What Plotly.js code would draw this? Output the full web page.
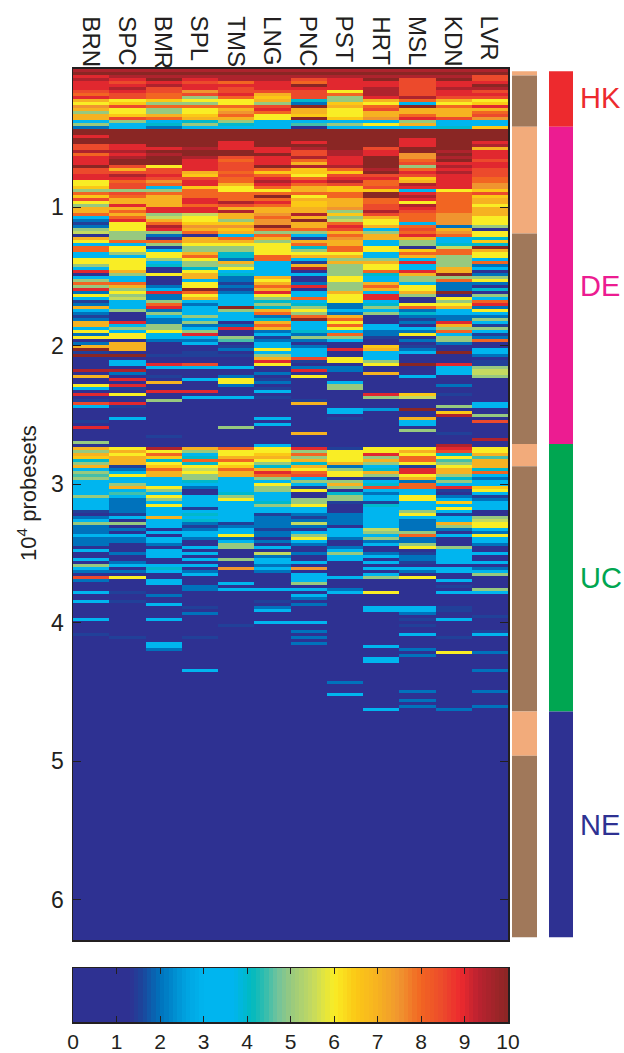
<!DOCTYPE html>
<html><head><meta charset="utf-8">
<script src="https://cdn.plot.ly/plotly-3.0.1.min.js"></script>
<style>html,body{margin:0;padding:0;background:#fff}</style></head>
<body><div id="chart" style="width:624px;height:1053px"></div>
<script>
const tissues = ["BRN","SPC","BMR","SPL","TMS","LNG","PNC","PST","HRT","MSL","KDN","LVR"];
const rowStep = 0.02165;
const rowsHK = [
[9.5,9.5,9.5,9.5,9.5,9.5,9.5,9.5,9.5,9.5,9.5,9.5],
[10,10,10,10,10,10,10,10,10,10,10,10],
[9,9.5,9.5,9.5,9.5,9.5,9.5,9.5,9.5,9.5,9.5,8.5],
[9.5,9,10,9,9.5,9.5,8.5,9,10,8.5,10,8.5],
[9,8.5,9,8.5,8,9,8,9,9,8.5,9,9],
[9,9,9.5,9,9,9,10,9,9,8.5,9,10],
[9,9.5,8.5,9,8.5,9,9,9,9.5,8.5,9.5,9.5],
[8.5,9,8.5,7.5,8.5,8.5,8.5,6,9.5,8.5,9,8.5],
[8,8.5,8,8.5,9,7,8.5,8,9.5,8.5,9,9],
[9,8.5,8,5,8,6.5,8.5,5,9,9.5,8.5,8.5],
[7,6,6.5,6,6,7,4,5,7,8,7,6],
[6,6.5,5,5,6,5,2,6.5,6,3,6,6.5],
[7.5,8.5,8,8,8,8.5,10,7,8,10,8,9],
[7,6,5,6,7,9,7,6,8.5,7,7,7],
[5,6,5,6,7.5,8,7,6,7,7,7,8],
[7,6.5,7,6.5,8,6,6.5,6,7,8,7,8.5],
[7,8.5,8,7,7,6,10,6.5,7.5,9,8.5,7.5],
[3,5,3,4,5,3,3,3.5,3,5,3,3],
[5,3,4,5,4,3,4.5,5,6,7,3,3],
[2,3,2,3,3,3,1,3,3,3,4,6.5]
];
const rowsDE = [
[10,10,10,10,10,10,10,10,10,10,10,10],
[10,10,10,10,10,10,10,10,10,10,10,10],
[9,10,10,10,10,10,10,10,10,10,10,10],
[10,10,10,10,10,10,10,10,10,9,10,10],
[10,10,10,10,9,10,9,10,10,9,10,9],
[8.5,9,10,10,9,10,10,10,10,9,10,9.5],
[8.5,9,9,9.5,9,9,9.5,10,8.5,10,10,7],
[9.5,9.5,10,10,10,9,8.5,9.5,9,10,9.5,9],
[8,9,9.5,10,10,10,8.5,9.5,9,7.5,10,9],
[9,9.5,10,9.5,8.5,9,9.5,9,10,7.5,9.5,9],
[9,10,10,9,8,9,8,9,10,8,10,8.5],
[9,10,10,9,8.5,9,7,9,10,8.5,9,9],
[10,8.5,6,9,8.5,10,9.5,9.5,10,5,9.5,9],
[8.5,7,8.5,9,8.5,8,6.5,8,9.5,8,9,8.5],
[8.5,8.5,8.5,7,8,6.5,6.5,6.5,10,9,9.5,8.5],
[9,9.5,9,6.5,8.5,8,6,8.5,8.5,8.5,9,8.5],
[9,9,8.5,8.5,8,9,8,9,9,6.5,9,8],
[6,8,7.5,9,8,9.5,9,9.5,8,7,9,8],
[6,8.5,8,9,7,9,8,8.5,8,9.5,9,7.5],
[6.5,8.5,3,6.5,6,8,7,6.5,8.5,9,9,7.5],
[5,5,5,8,6,6,7,6.5,6.5,3,6,6.5],
[8,8.5,8,8,8,8,8,8,10,9,8,8.5],
[6.5,8,7,8,8,10,6,8,10,9.5,8,6.5],
[8.5,7,7,9,8,8,7,7,8,9,8,7],
[6,7,7,9,9.5,9,6.5,7,8,6,8,7],
[5,9,7,8,8.5,8,6.5,7,8.5,9.5,8,6],
[7,7,9,9,7,7,7,7.5,8.5,9,8,7],
[7,8,9,9,9.5,7,7,5,9.5,8.5,8,7],
[8,7,5,5.5,7,7.5,9.5,6.5,8.5,8,7.5,7],
[3,8,5.5,6,7,8,7,5,7,8,7.5,6],
[2,9,7,6,5,7.5,10,5.5,6,8,7.5,6],
[1.5,6,8,6.5,6.5,7.5,7,8,6,3,7.5,6],
[2,6,9.5,7.5,7.5,10,7,9,7,8,2,5],
[5,6,9,7,6.5,8,8,8.5,3,8.5,7,1],
[5.5,5,5,8,7,5,5,7,5,8,7.5,6],
[1,5,2,1,3,8,3,8,7,9,8,6],
[7,5,1,7,8,7,1.5,7.5,7,7,3,4],
[6,8,8,7,7,5,7,7,3,5,3,6.5],
[3,3,5,6,6,6,8,7,3,5,4,4],
[8,6,1.5,5,5,6,4,8,6,1,5.5,10],
[8,6,3,5,5,6,5,8,6,6.5,8,7],
[3,5,6,7,4,6,6,6,3,8,8,6],
[3,3,6,8,4,8,7,7,3,7,5,6],
[6,6,5,6,2,8,3,5,5,3,5,3],
[6,6,3,5,7,3,1.5,7,7,9,5,8],
[5,6,4,5,5,3,7,5,6,3,5,2],
[3,6,1,4,6,3,9.5,5,6,3,7,3],
[9,7,1,6,3,3,1,5,8,9,7,1],
[1,5,6,7,4,3,3,5,4,7,10,2],
[3,3,1,7,2,7,1,6,3,5,5,5],
[5,3,1,3,2,6,1,6,3,5,8,6],
[8,8,1,6,1.5,7,2,5,7,3,2,2],
[5,7,2,6,2,8,9,5,8,6,2,1],
[9,5,3,10,1.5,7,1,5,7,6,2,4],
[2,6,9,8,2,9,3,7,3,7,10,1],
[6,5,2,6,3,6,3,6,9,5,1,5],
[3,5.5,2,7,3,5,8,6,9,1,6,3],
[1.5,3,5,3,3,4,3,6,3,1,5,8],
[2,3,8,2,3,5,4,2,4,6,6,9],
[7,3,9,3,10,4,5,2,5,8,7,2],
[3,5,2,3,5,7,6,3,3,2,3,6],
[2,1,5,3,3,8,5,2,5,4,3,3],
[1.5,1,3,5,3,2,8,7,1,2,2,2],
[2,1,2,3,3,4,10,8,1,1.5,2,5],
[7,9,2,5,1,7,3,6,1,2,9,3],
[7,3,5,2,2,8,3,8,3,1,7,1.5],
[3,5,5,3,9,7,3,6,3,3,5,5],
[6,3,6,5,1,2,4,3,2,2,8,3],
[2,6,3,9,1,3,2,8,2,6,3,1.5],
[6,6,3,3,5,1.5,5,5,1.5,1,5,2],
[1,1,2,2,4.5,2,2,3,1,2,5,8],
[2,7,1,3,1,3,1,1,1,1,2,1],
[7,7,1,1,1.5,3,2,1,6.5,1.5,1,1],
[10,7,1,1,2,6,3,9,7,2,1,3],
[1.5,1,1,1.5,1,3,3,1,3,3,10,3],
[10,10,1.5,1.5,1.5,5,3,1,3,1,1,2],
[1,1,1,1,1,7,8.5,6,3.5,1,1,1],
[1,3,1,1,1,9,1.5,6,5,1,1,1.5],
[1,3,9,8.5,1,6,1,1,6,10,9,1.5],
[1,1,3,3,3,1,2,2,1,1,3,5],
[9.5,9.5,1,1,1,1,9,2,1,1,3,5.5],
[1,2,1,1,1,2,1,1,7,1,3,5.5],
[7,1,1.5,1,2,1,6,1,1,3,1,5],
[1,9,1,3,6,1.5,1,1,1,1,1,1],
[1,1,7,1,6,2,1,3,1,1,1,1],
[6,9,1,1,2,1,1,5,1,1,2,1],
[3,1.5,1,1,1,1.5,1,5,1,1,1,1],
[1,1,9,9,1,3,1,1,1,1,1,1],
[9,6,1,1,1,1,1,1,9,6.5,1.5,1],
[1,1,1,3,3,1.5,1,1,5,5.5,1,1],
[1.5,1,5,1,1,1,1.5,1,1,1,1,1],
[8.5,9,1,1,1,1,7,1,1,1,1,3],
[3,1.5,1,1,1,1,1,1,1,1,5,3],
[1,1,1,1,1,1,1,3,2.5,10,1,1],
[1,1,1,1,1,1,1,3,1,1,6.5,1],
[1,1,1,1,1,1,1,1,1,1,9.5,5],
[1,3,1,1,1,3,1,1.5,1,7,1,1],
[1.5,1,1,1,1,1,1,1,1,3,1,8.5],
[1,1,1,1,1,3,1,1,1,3,1,1],
[9,1,1,1,5,1,1,1,1,1,1,1],
[1,1,1,1,1,1,1,1,1,5,1,1],
[1,1,1,1,1,1,7,1,1,1,1.5,1],
[1,1,1.5,1,1,1,1,1,1,1,1,1],
[1,1,1,1,1,1,1,1,1,1,1,9.5],
[5,1,1,1,1,1,1,1,1,1,1,1],
[1,1,1,1,1,3,1,1,1,1,9.5,1]
];
const rowsUC = [
[7,6,9.5,7,8,6,9,1.5,6,6,9,6],
[5,7,6,5,6,6,5,6,6,7,8.5,6],
[7,6,8,3,6,6.5,8,6,9,6,4,7],
[6.5,7,6.5,4,7,7,5,6,5,8,6,4.5],
[4,7,4,8,8,6,7,6,7,8,4.5,7],
[5,7,6,4,6,5,4,7,5,6,5,7],
[7,1.5,6.5,6,6.5,4,7,2,3.5,1.5,6,7],
[3,2,8,5.5,8,7,6,5,4,9,7,4],
[5,3,7,6,7,9,8,6,7,9,7,8],
[4.5,6,7,5,7,8,8.5,6,5,6,5,3],
[5,3,3,5,3,5,3,1,1.5,7,4,2],
[3,3,3,4,3,3,5,5,3,2,5,3],
[3,5,3,3,3,6,3,7,4,8,3,3],
[3,7,6,2,3,5,1.5,5,8.5,8,9,6.5],
[3,3,5,1,3,5,6,1,3,3,1.5,6],
[3,4.5,3,1,4,3,1,4,2,3,1,3],
[5,3,6,3,5,3,1,5,3,6,2,1.5],
[3,2,5,3,6,3,5,5,3,6,3,2],
[3,2,3,3,3,4,5,1.5,1.5,3,6.5,3],
[3,2,6,3,3,5,6,1,4,3,3,3],
[3,2,3,1.5,3,3,3,1,3,3,6,3],
[1.5,2,3,3,3,3,3,1,3,5,3,1],
[1,1.5,3,4,3,1.5,2,2,3,6,1.5,1],
[2,3,7,3.5,3,2,1.5,2,3,3,3,5],
[3,1,3,4,3,2,2,2,3,2,3,5.5],
[5,5,3,2,1.5,2,5.5,2,3,2,7,6],
[2,1,3,1.5,2,2,2,1,3,2,5,6],
[2,2,1,2,3,1.5,1,3,5.5,2,2,3],
[2,1,3,3,3,2,3,3,5,5,1,2],
[3,3,1,3,6,2,5,3,3,8,3,6],
[2,2,3,2,2,1,6,2,5,2,1,3],
[2,2,3,1,3,2,3,1,2,2,1,3],
[2,1,2,1,5,1,2,1,3,5,1,2],
[1,1,1,3,5,3,1,2,1,6,5,1],
[3,1,3,1,1,1,1,3,1,1,3,1],
[1,2,3,3,1,5.5,2,5,2,1.5,3,3],
[1,1,3,1,1,2,1,3,3,2,3,1],
[3,1,1,3,5,3,1,3,1,2,3,1],
[1,2,1,1,1,3,3,1,3,1.5,3,3],
[5,3,3,3,1,2,1,1,1,1,1,1],
[3,1,4,1,7.5,3,7.5,1,3,3,3,2],
[2,2,3,2,1,2,1,1,1,2,3,3],
[1,1,1,3,1,1,3,1,3,1,1,5],
[8.5,6,1,1,1,1,3,3,5,6,1,1],
[2,1,3,1,1,1,3,1,1,1,3,1],
[1,1,3,1,3,1,5,1,1,1,1,1],
[1,1,1,2,1,1,1,1,1,1,1.5,1],
[1,1,1,2,3,3,3,2,1,1,1,5],
[3,1.5,1,1,1,1,1,3,6,1,3,3],
[1,1,2,1,1,1,3,1,1,1,1,1],
[1,1,1,1,1,1,2,1,1,1,1,1],
[3,1.5,1,1,1,1.5,1,1,1,1,1,1],
[1,1,3,1,1,1,2,1,1,1,1,1],
[1,1,1,1.5,1,2,1,1,3,3,1.5,1],
[1,1,1,1,1,3,1,1,3,3,1.5,1],
[1,1,1,2,1,1,1,1,1,2,1,1],
[1,1,1,1,1,1,1,1,1,1,1,1.5],
[3,1,3,1,1,1,1,1,1,1.5,3,1],
[1,1,1,1,1,3,3,1,1,1,1,1],
[1,1,1,1,1.5,1,1,1,1,1.5,1,1],
[1,1,1,1,1,1,1,1,1,1,1,1],
[1,1,1,1,1,1,2,1,1,1,1,1.5],
[1.5,1,1,1,1,1,1,1,1,3,1,3],
[1,1.5,1,1.5,1,1,2,1,1,1,1.5,1],
[1,1,1,1,1,1,1,1,1,1,1,1],
[1,1,3,1,1,1,2,1,1,1,1,1],
[0,0,3,0,0,0,0,0,3,0,0,0],
[0,0,2,0,0,0,0,0,0,2,0,0],
[0,0,0,0,0,0,0,0,0,0,6,2],
[0,0,0,0,0,0,0,0,0,2,0,0],
[0,0,0,0,0,0,0,0,3,0,0,0],
[0,0,0,0,0,0,0,0,3,0,0,0],
[0,0,0,0,0,0,0,0,0,0,0,0],
[0,0,0,0,0,0,0,0,0,0,0,0],
[0,0,0,3,0,0,0,0,0,0,0,2],
[0,0,0,0,0,0,0,0,0,0,0,0],
[0,0,0,0,0,0,0,0,0,0,0,0],
[0,0,0,0,0,0,0,0,0,0,0,0],
[0,0,0,0,0,0,0,2,0,0,0,0],
[0,0,0,0,0,0,0,0,0,0,0,0],
[0,0,0,0,0,0,0,0,0,0,0,0],
[0,0,0,0,0,0,0,0,0,2,0,2],
[0,0,0,0,0,0,0,3,0,0,0,0],
[0,0,0,0,0,0,0,0,0,0,0,0],
[0,0,0,0,0,0,0,0,0,2,0,0],
[0,0,0,0,0,0,0,0,0,0,0,0],
[0,0,0,0,0,0,0,0,0,2,0,2],
[0,0,0,0,0,0,0,0,3,0,2,0],
[0,0,0,0,0,0,0,0,0,0,0,0]
];
const rowsNE = [[0,0,0,0,0,0,0,0,0,0,0,0]];
const edgesNE = [4.6,6.3];
const barLevels = [0.05,0.15,0.25,0.35,0.45,0.55,0.65,0.75,0.85,0.95,1.05,1.15,1.25,1.35,1.45,1.55,1.65,1.75,1.85,1.95,2.05,2.15,2.25,2.35,2.45,2.55,2.65,2.75,2.85,2.95,3.05,3.15,3.25,3.35,3.45,3.55,3.65,3.75,3.85,3.95,4.05,4.15,4.25,4.35,4.45,4.55,4.65,4.75,4.85,4.95,5.05,5.15,5.25,5.35,5.45,5.55,5.65,5.75,5.85,5.95,6.05,6.15,6.25,6.35,6.45,6.55,6.65,6.75,6.85,6.95,7.05,7.15,7.25,7.35,7.45,7.55,7.65,7.75,7.85,7.95,8.05,8.15,8.25,8.35,8.45,8.55,8.65,8.75,8.85,8.95,9.05,9.15,9.25,9.35,9.45,9.55,9.65,9.75,9.85,9.95];
const barTicks = [0,1,2,3,4,5,6,7,8,9,10];
const probeTicks = [1,2,3,4,5,6];
const stripStart = [0.02,0.05,0.42,1.19,2.71,2.87,4.64,4.96];
const stripLength = [0.03,0.37,0.77,1.52,0.16,1.77,0.32,1.31];
const stripColors = ["#F2AB7B","#A0785A","#F2AB7B","#A0785A","#F2AB7B","#A0785A","#F2AB7B","#A0785A"];
const classNames = ["HK","DE","UC","NE"];
const classStart = [0.02,0.42,2.71,4.64];
const classLength = [0.40,2.29,1.93,1.63];
const classColors = ["#ED2A2E","#EC1C91","#00A651","#2E3192"];
const classLabelY = [0.21,1.57,3.68,5.46];

const W = 624, H = 1053, ink = "#231F20";
const jet = [[0,"#2E3192"],[0.13,"#2E3192"],[0.16,"#1B479C"],[0.2,"#0072BC"],[0.26,"#00A3E0"],[0.3,"#00B5EF"],[0.37,"#00B5EF"],[0.41,"#00B9C0"],[0.44,"#2FBDAF"],[0.47,"#70C39D"],[0.5,"#97C97F"],[0.55,"#C4DA60"],[0.6,"#F9ED25"],[0.65,"#FBC816"],[0.7,"#F6B221"],[0.75,"#F0952F"],[0.8,"#F26522"],[0.85,"#EC4A2C"],[0.89,"#ED2A2E"],[0.93,"#BC2230"],[1,"#8A2624"]];
const heat = {type:"heatmap",colorscale:jet,zmin:0,zmax:10,showscale:false,zsmooth:false,hoverinfo:"skip"};
const rowsAll = rowsHK.concat(rowsDE,rowsUC);
const traces = [
 Object.assign({},heat,{z:rowsNE,x:tissues,y:edgesNE,xaxis:"x",yaxis:"y"}),
 Object.assign({},heat,{z:rowsAll,x:tissues,y0:rowStep/2,dy:rowStep,xaxis:"x",yaxis:"y"}),
 Object.assign({},heat,{z:[barLevels],x:barLevels,y:["range"],xaxis:"x2",yaxis:"y2"}),
 {type:"bar",x:stripStart.map(()=>0),base:stripStart,y:stripLength,width:1,marker:{color:stripColors,line:{width:0}},xaxis:"x3",yaxis:"y",hoverinfo:"skip"},
 {type:"bar",x:classStart.map(()=>0),base:classStart,y:classLength,width:1,marker:{color:classColors,line:{width:0}},xaxis:"x4",yaxis:"y",hoverinfo:"skip"}
];
const font = {family:"Liberation Sans, Arial, sans-serif",color:ink};
const annotations = [];
tissues.forEach(t=>annotations.push({x:t,xref:"x",y:1-14/H,yref:"paper",yanchor:"top",xanchor:"center",text:t,textangle:90,showarrow:false,font:{family:font.family,color:ink,size:24}}));
classNames.forEach((c,i)=>annotations.push({x:578/W,xref:"paper",y:classLabelY[i],yref:"y",xanchor:"left",yanchor:"middle",text:c,showarrow:false,font:{family:font.family,color:classColors[i],size:29}}));
annotations.push({x:27/W,xref:"paper",y:1-493/H,yref:"paper",xanchor:"center",yanchor:"middle",text:"10<sup>4</sup> probesets",textangle:-90,showarrow:false,font:{family:font.family,color:ink,size:22}});
const layout = {
 width:W,height:H,margin:{l:0,r:0,t:0,b:0},paper_bgcolor:"#fff",plot_bgcolor:"#fff",showlegend:false,barmode:"overlay",font:font,annotations:annotations,
 xaxis:{domain:[73/W,508/W],type:"category",range:[-0.5,11.5],showticklabels:false,ticks:"",showline:true,mirror:true,linecolor:ink,linewidth:1.5,showgrid:false,zeroline:false,anchor:"y"},
 yaxis:{domain:[1-940/H,1-68.5/H],range:[6.29,0],tickmode:"array",tickvals:probeTicks,ticks:"inside",ticklen:8,tickwidth:1,tickcolor:ink,showline:true,mirror:"ticks",linecolor:ink,linewidth:1.5,showgrid:false,zeroline:false,ticklabelstandoff:3,tickfont:{size:23,color:ink,family:font.family},anchor:"x"},
 xaxis2:{domain:[73/W,508/W],range:[0,10],tickmode:"array",tickvals:barTicks,ticks:"inside",ticklen:6,tickwidth:1,tickcolor:ink,showline:true,mirror:"ticks",linecolor:ink,linewidth:1.5,showgrid:false,zeroline:false,tickfont:{size:21,color:ink,family:font.family},anchor:"y2"},
 yaxis2:{domain:[1-1022/H,1-968/H],showticklabels:false,ticks:"",showgrid:false,zeroline:false,showline:true,mirror:true,linecolor:ink,linewidth:1.5,anchor:"x2"},
 xaxis3:{domain:[512/W,537/W],range:[-0.5,0.5],visible:false,anchor:"y",fixedrange:true},
 xaxis4:{domain:[549/W,573/W],range:[-0.5,0.5],visible:false,anchor:"y",fixedrange:true}
};
Plotly.newPlot("chart",traces,layout,{displayModeBar:false,staticPlot:true});
</script></body></html>
